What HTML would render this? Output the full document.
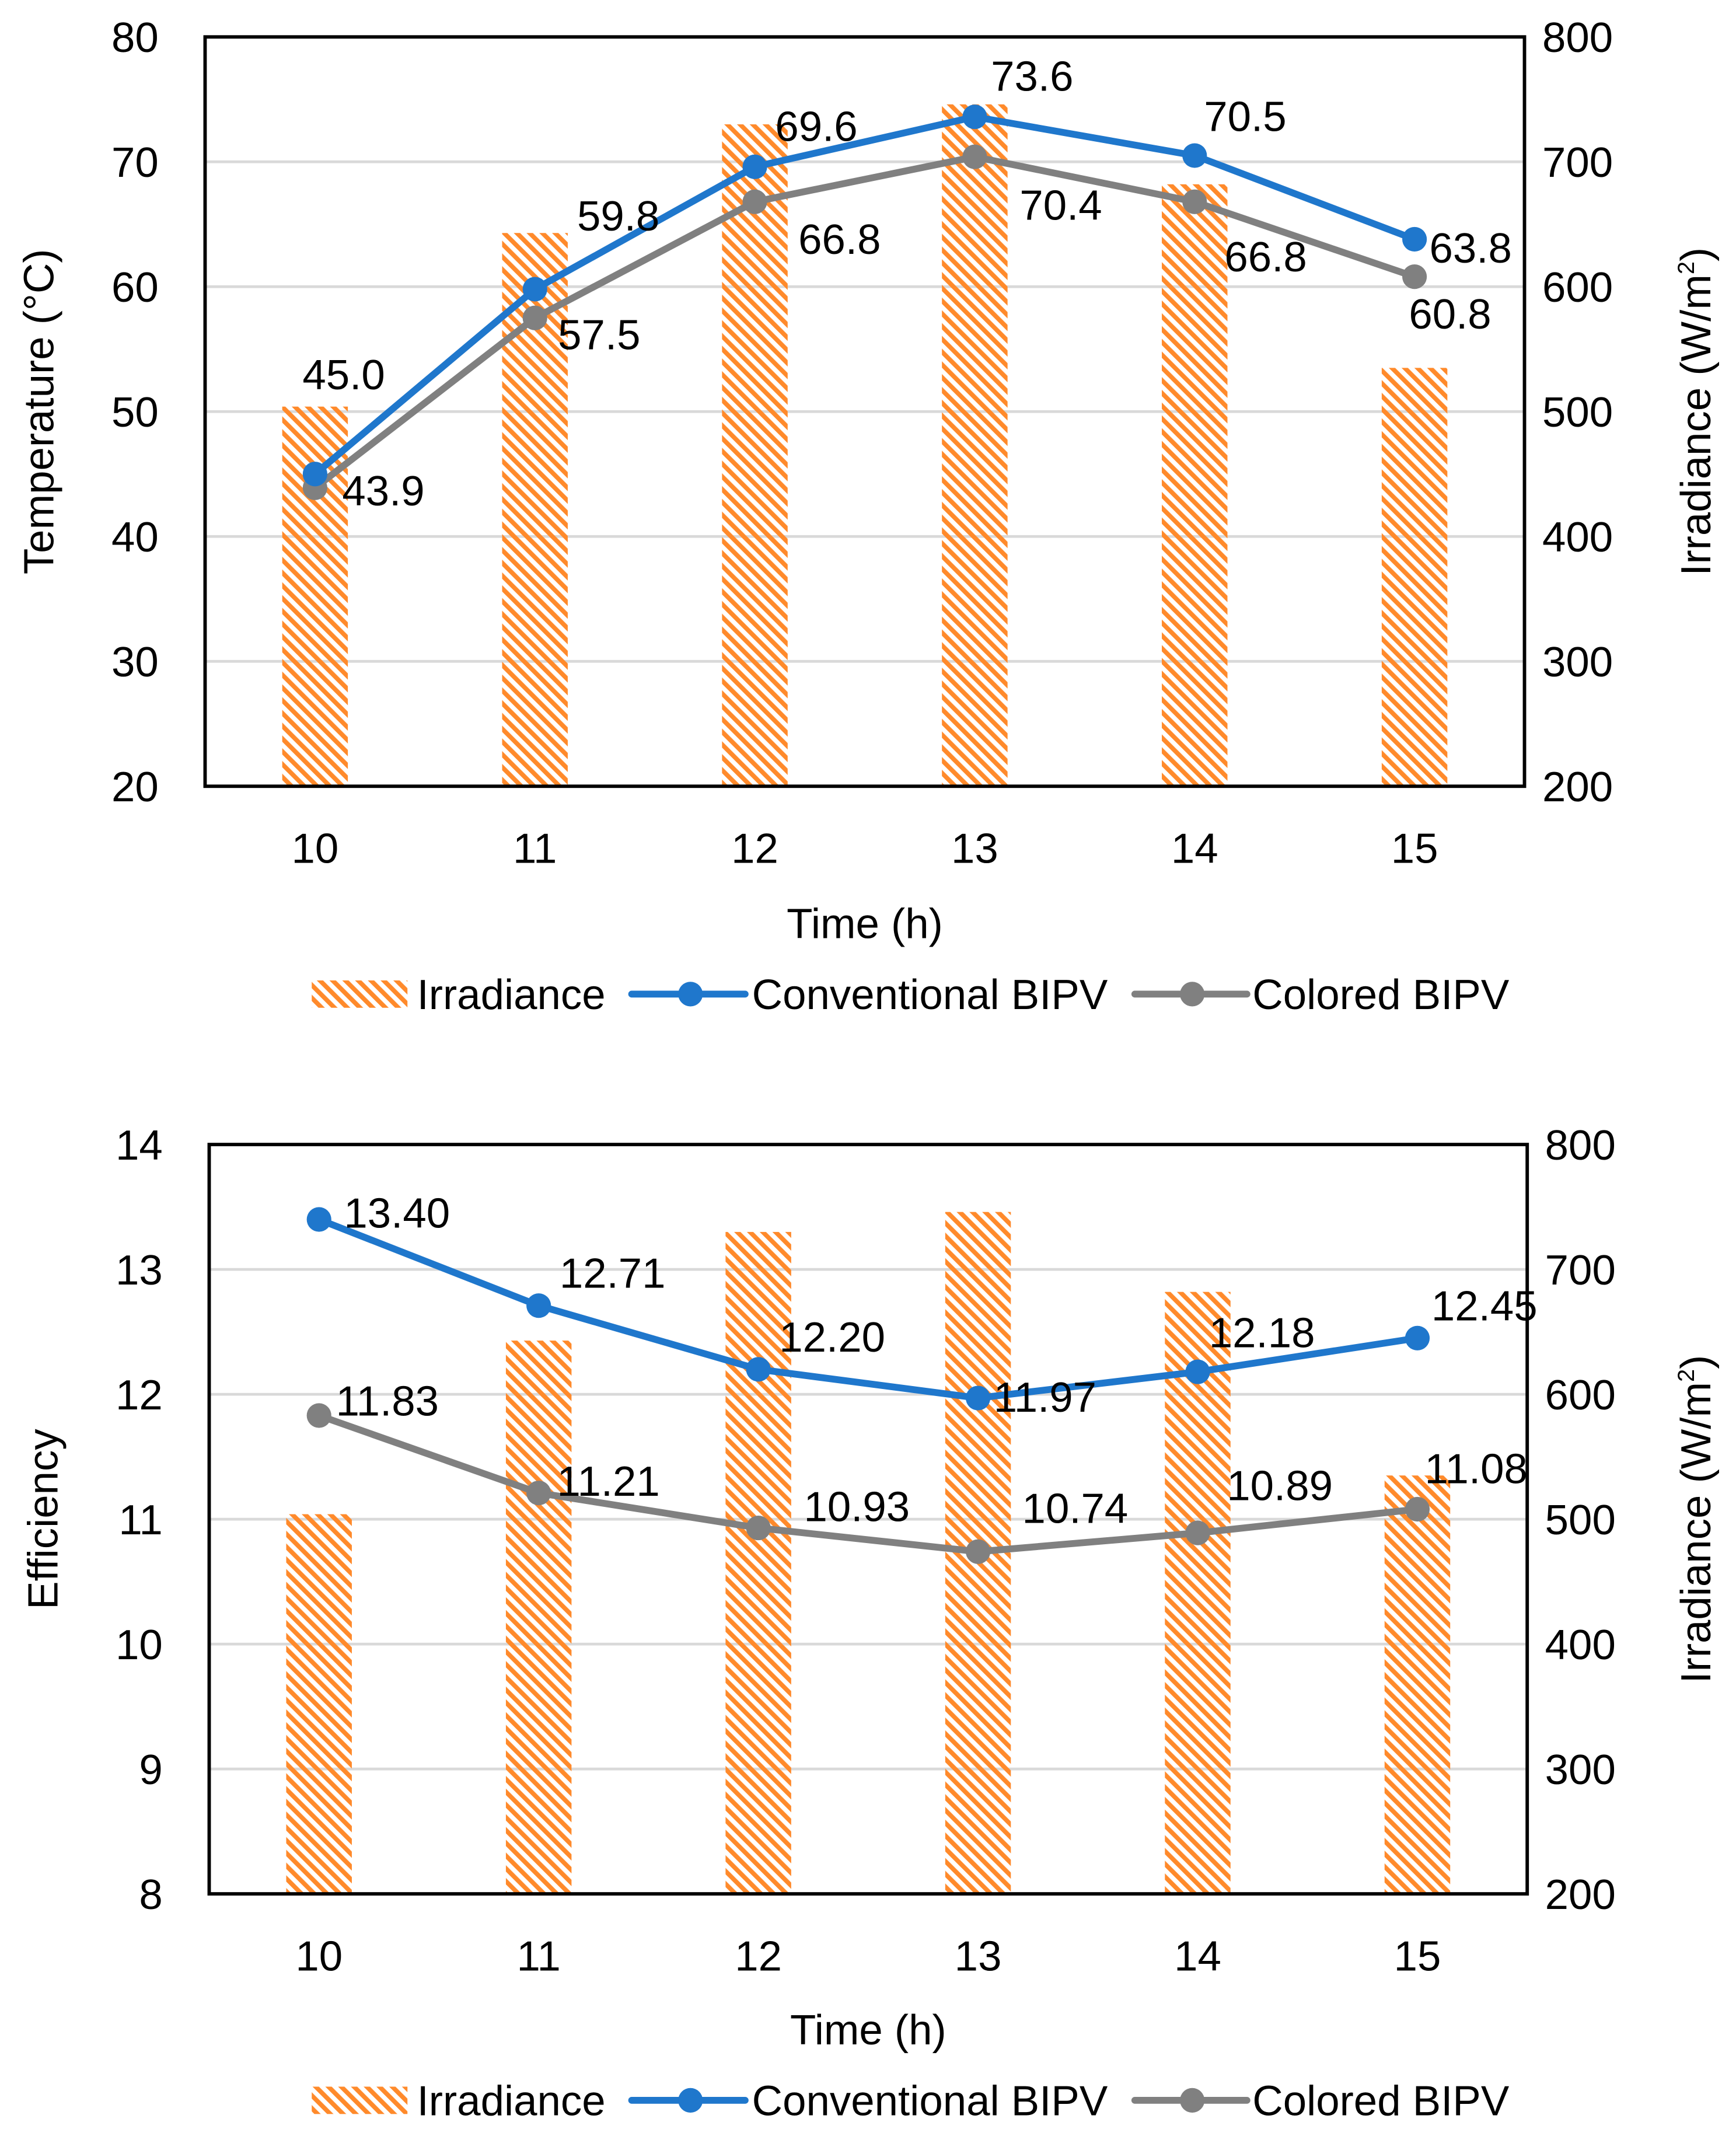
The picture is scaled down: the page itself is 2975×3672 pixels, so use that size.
<!DOCTYPE html>
<html><head><meta charset="utf-8"><style>
html,body{margin:0;padding:0;background:#fff}
svg{display:block}
text{font-family:"Liberation Sans",sans-serif;fill:#000}
</style></head><body>
<svg id="chart" width="2975" height="3672" viewBox="0 0 1269.7 1567.2" preserveAspectRatio="none" xmlns="http://www.w3.org/2000/svg">
<defs>
<pattern id="hatch" patternUnits="userSpaceOnUse" width="6.6" height="6.6" patternTransform="rotate(-45)">
<rect x="0" y="0" width="3.3" height="6.6" fill="#FF8A2B"/>
</pattern>
</defs>
<g id="top"></g>
<g id="bot"></g>
</svg>
<script>
const categories = ["10","11","12","13","14","15"];
const irradiance = [504, 643, 730, 746, 682, 535];
const tempConventional = [45.0, 59.8, 69.6, 73.6, 70.5, 63.8];
const tempColored = [43.9, 57.5, 66.8, 70.4, 66.8, 60.8];
const effConventional = [13.40, 12.71, 12.20, 11.97, 12.18, 12.45];
const effColored = [11.83, 11.21, 10.93, 10.74, 10.89, 11.08];
const tempTicks = [20,30,40,50,60,70,80];
const effTicks = [8,9,10,11,12,13,14];
const irrTicks = [200,300,400,500,600,700,800];
// label offsets (styling)
const offTC=[[21,-73],[61,-54],[45,-30],[42,-30],[37,-29],[41,6]];
const offTG=[[50,2],[47,12],[62,27],[63,35],[52,40],[26,27]];
const offEC=[[57,-5],[54,-24],[54,-24],[49,-1],[47,-29],[49,-24]];
const offEG=[[50,-11],[51,-9],[72,-16],[71,-32],[60,-35],[43,-30]];
const FS=31;

const NS="http://www.w3.org/2000/svg";
function mk(parent,tag,attrs,text){const e=document.createElementNS(NS,tag);for(const k in attrs)e.setAttribute(k,attrs[k]);if(text!==undefined)e.textContent=text;parent.appendChild(e);return e;}

function drawChart(g,cfg){
  const {L,R,T,B,ticks,s1,s2,dec,o1,o2,ytitle,ytitleX,legY,xlabY,xtitleY} = cfg;
  const ymin=ticks[0],ymax=ticks[ticks.length-1];
  const y=v=>B-(v-ymin)/(ymax-ymin)*(B-T);
  const y2=v=>B-(v-200)/600*(B-T);
  const bw=(R-L)/categories.length;
  const x=i=>L+bw*(i+0.5);
  ticks.forEach((t,i)=>{
    if(i>0){const gl=mk(g,"line",{x1:L,x2:R,y1:y(t),y2:y(t),stroke:"#D9D9D9","stroke-width":2});
    
    }
    const tl=mk(g,"text",{x:L-34,y:y(t)+11,"text-anchor":"end","font-size":FS},String(t));
    
    
  });
  irrTicks.forEach(t=>{
    const tl=mk(g,"text",{x:R+13,y:y2(t)+11,"font-size":FS},String(t));
    
    
  });
  irradiance.forEach((v,i)=>{
    const b=mk(g,"rect",{x:x(i)-24,y:y2(v),width:48,height:B-y2(v),fill:"url(#hatch)"});
    
    
  });
  const fr=mk(g,"rect",{x:L,y:T,width:R-L,height:B-T,fill:"none",stroke:"#000","stroke-width":2.5});
  
  
  [[s2,"#808080",o2,"colored"],[s1,"#1F77CC",o1,"conventional"]].forEach(([s,c,o,n])=>{
    const pl=mk(g,"polyline",{points:s.map((v,i)=>x(i)+","+y(v)).join(" "),fill:"none",stroke:c,"stroke-width":5,"stroke-linejoin":"round"});
    
    
    s.forEach((v,i)=>{
      const m=mk(g,"circle",{cx:x(i),cy:y(v),r:9,fill:c});
      
      
    });
  });
  [[s1,o1,"conventional"],[s2,o2,"colored"]].forEach(([s,o,n])=>{
    s.forEach((v,i)=>{
      const l=mk(g,"text",{x:x(i)+o[i][0],y:y(v)+o[i][1]+11,"text-anchor":"middle","font-size":FS},v.toFixed(dec));
      
      
    });
  });
  categories.forEach((c,i)=>{
    const t=mk(g,"text",{x:x(i),y:xlabY+11,"text-anchor":"middle","font-size":FS},c);
    
    
  });
  const xt=mk(g,"text",{x:(L+R)/2,y:xtitleY+11,"text-anchor":"middle","font-size":FS},"Time (h)");
  
  
  const cy=(T+B)/2;
  const yt=mk(g,"text",{x:0,y:0,"text-anchor":"middle","font-size":FS,transform:`translate(${ytitleX+11},${cy}) rotate(-90)`},ytitle);
  
  
  const rt=mk(g,"text",{x:0,y:0,"text-anchor":"middle","font-size":FS,transform:`translate(${1251},${cy}) rotate(-90)`});
  
  
  rt.appendChild(document.createTextNode("Irradiance (W/m"));
  mk(rt,"tspan",{"font-size":17,dy:-12},"2");
  mk(rt,"tspan",{dy:12},")");
  // legend
  const lg=mk(g,"g",{});
  
  
  const sw=mk(lg,"rect",{x:228,y:legY-10,width:70,height:20,fill:"url(#hatch)"});
  
  
  const t1=mk(lg,"text",{x:305,y:legY+11,"font-size":FS},"Irradiance");
  
  
  mk(lg,"line",{x1:462,x2:545,y1:legY,y2:legY,stroke:"#1F77CC","stroke-width":5,"stroke-linecap":"round"});
  mk(lg,"circle",{cx:505,cy:legY,r:9,fill:"#1F77CC"});
  const t2=mk(lg,"text",{x:550,y:legY+11,"font-size":FS},"Conventional BIPV");
  
  
  mk(lg,"line",{x1:830,x2:912,y1:legY,y2:legY,stroke:"#808080","stroke-width":5,"stroke-linecap":"round"});
  mk(lg,"circle",{cx:872,cy:legY,r:9,fill:"#808080"});
  const t3=mk(lg,"text",{x:916,y:legY+11,"font-size":FS},"Colored BIPV");
  
  
}
drawChart(document.getElementById("top"),{L:150,R:1115,T:27,B:575,ticks:tempTicks,s1:tempConventional,s2:tempColored,dec:1,o1:offTC,o2:offTG,ytitle:"Temperature (°C)",ytitleX:28,legY:727,xlabY:620,xtitleY:675});
drawChart(document.getElementById("bot"),{L:153,R:1117,T:837,B:1385,ticks:effTicks,s1:effConventional,s2:effColored,dec:2,o1:offEC,o2:offEG,ytitle:"Efficiency",ytitleX:31,legY:1536,xlabY:1430,xtitleY:1484});
</script>
</body></html>
